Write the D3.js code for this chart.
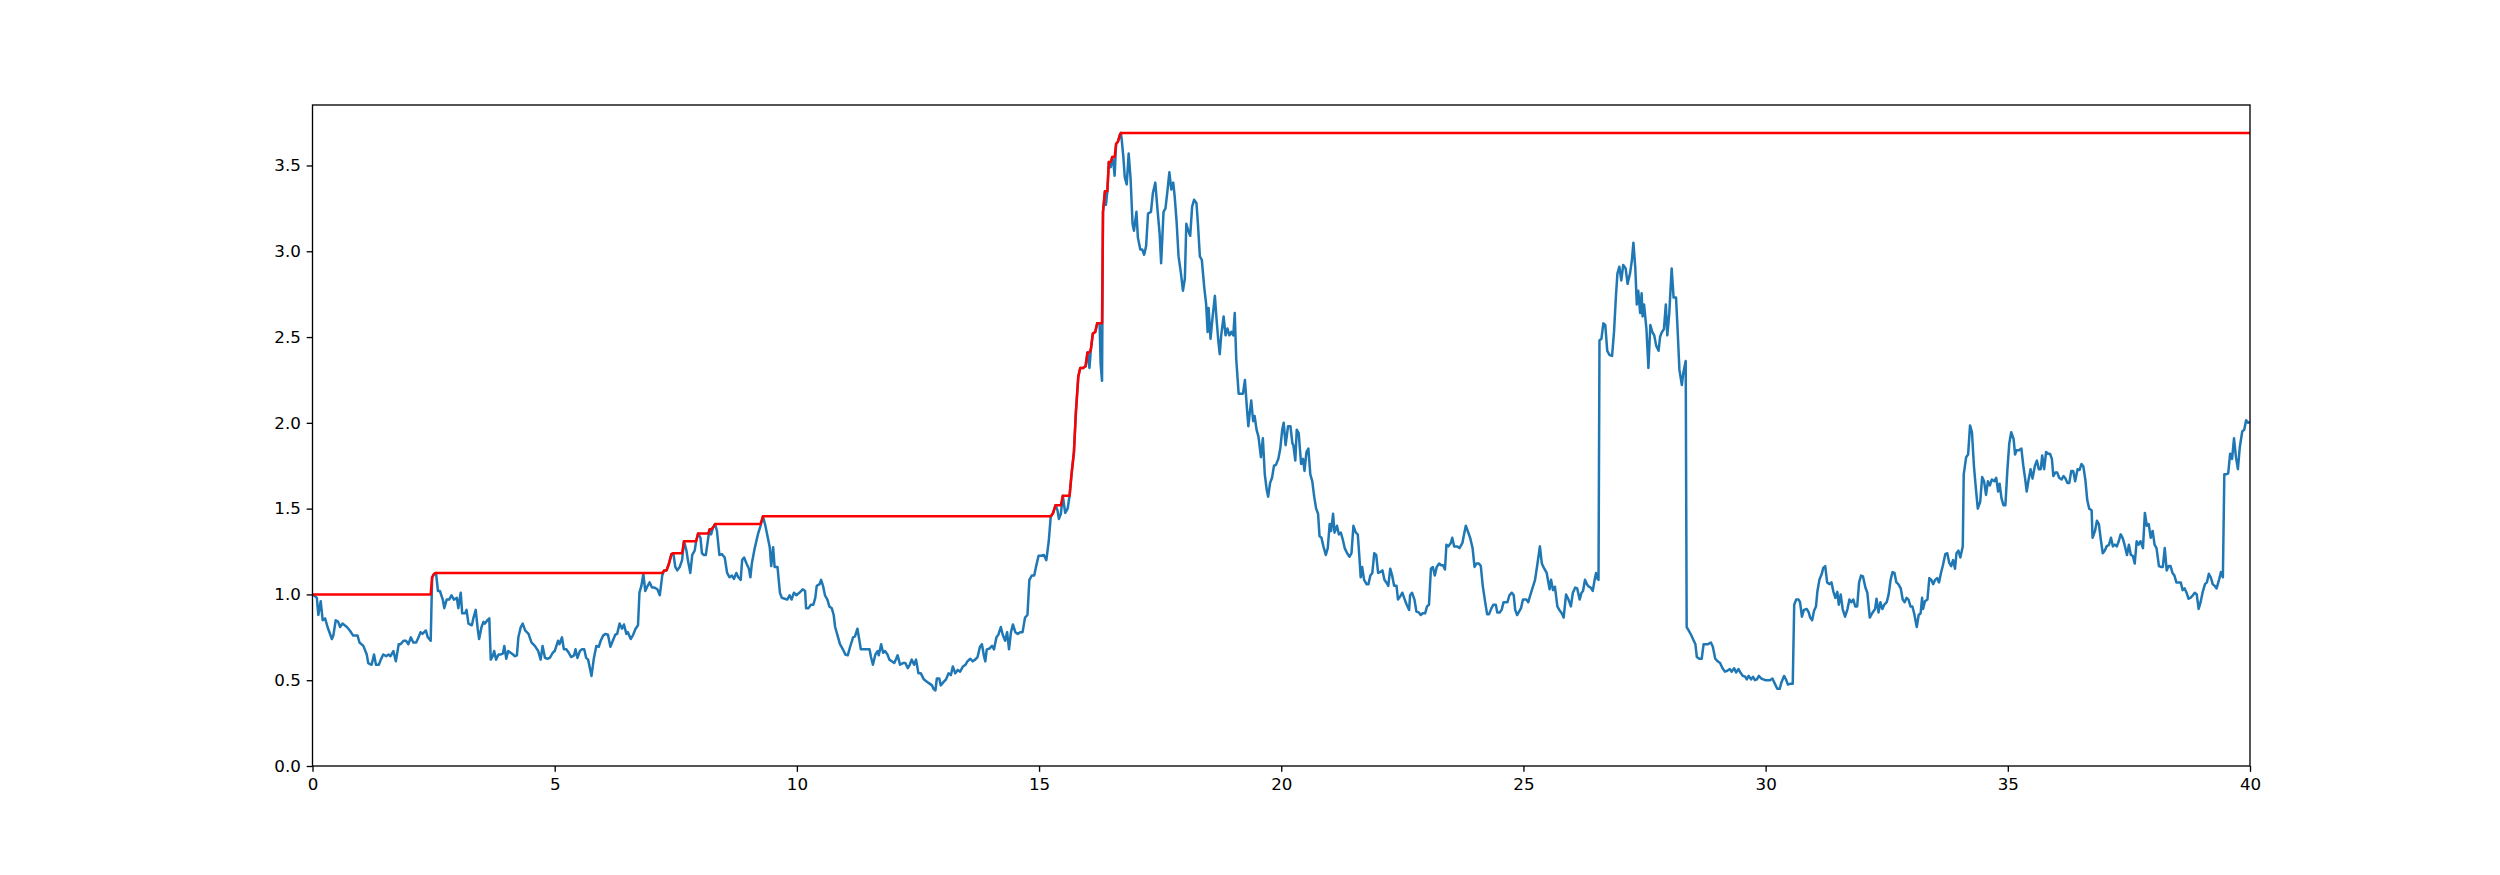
<!DOCTYPE html>
<html>
<head>
<meta charset="utf-8">
<script src="https://cdn.jsdelivr.net/npm/d3@7"></script>
<style>
  body { margin: 0; background: #fff; }
  svg { display: block; }
  .axis text { font-family: "DejaVu Sans", sans-serif; font-size: 16.7px; fill: #000; }
  .axis line { stroke: #000; stroke-width: 1.33; }
</style>
</head>
<body>
<div id="grafiek"></div>
<script>
// blue series, [x, value] pairs
const walk = [
  [0,1.0],[0.05,0.99],[0.09,0.98],[0.12,0.88],[0.17,0.96],[0.21,0.85],[0.26,0.86],[0.31,0.81],[0.40,0.74],[0.43,0.76],
  [0.48,0.85],[0.53,0.84],[0.57,0.81],[0.62,0.83],[0.71,0.81],[0.77,0.79],[0.84,0.76],[0.93,0.76],[0.97,0.72],[1.05,0.70],
  [1.12,0.65],[1.15,0.60],[1.22,0.59],[1.27,0.65],[1.31,0.59],[1.37,0.59],[1.41,0.62],[1.46,0.65],[1.52,0.64],[1.57,0.65],
  [1.61,0.64],[1.67,0.67],[1.72,0.61],[1.78,0.71],[1.82,0.71],[1.88,0.73],[1.93,0.73],[1.98,0.71],[2.03,0.75],[2.08,0.72],
  [2.14,0.72],[2.19,0.75],[2.23,0.78],[2.27,0.77],[2.34,0.79],[2.38,0.75],[2.44,0.73],[2.47,1.10],[2.51,1.12],[2.55,1.125],
  [2.59,1.02],[2.63,1.02],[2.69,0.97],[2.72,0.92],[2.77,0.97],[2.82,0.97],[2.87,0.995],[2.92,0.97],[2.98,0.98],[3.01,0.92],
  [3.06,1.01],[3.09,0.89],[3.15,0.89],[3.18,0.91],[3.22,0.83],[3.29,0.82],[3.32,0.86],[3.37,0.91],[3.41,0.80],[3.44,0.74],
  [3.49,0.81],[3.53,0.84],[3.56,0.83],[3.61,0.85],[3.65,0.86],[3.68,0.62],[3.72,0.64],[3.75,0.67],[3.79,0.62],[3.84,0.65],
  [3.89,0.65],[3.93,0.655],[3.96,0.70],[4.00,0.625],[4.04,0.67],[4.09,0.66],[4.14,0.65],[4.18,0.64],[4.22,0.645],[4.25,0.75],
  [4.30,0.81],[4.34,0.83],[4.39,0.79],[4.46,0.77],[4.52,0.72],[4.59,0.70],[4.66,0.67],[4.71,0.62],[4.75,0.70],[4.80,0.63],
  [4.85,0.625],[4.90,0.63],[4.96,0.66],[5.00,0.67],
  [5.07,0.73],[5.10,0.71],[5.15,0.75],[5.19,0.68],[5.24,0.68],[5.29,0.66],[5.34,0.635],[5.40,0.645],[5.43,0.68],[5.47,0.63],
  [5.52,0.67],[5.56,0.68],[5.61,0.68],[5.65,0.63],[5.69,0.62],[5.76,0.525],[5.81,0.63],[5.86,0.70],[5.91,0.695],[5.95,0.73],
  [6.00,0.76],[6.05,0.77],[6.10,0.765],[6.15,0.695],[6.20,0.73],[6.25,0.765],[6.29,0.77],[6.34,0.83],[6.39,0.80],[6.43,0.825],
  [6.48,0.77],[6.51,0.78],[6.57,0.74],[6.62,0.765],[6.67,0.80],[6.72,0.82],[6.75,1.01],[6.79,1.05],[6.83,1.12],[6.87,1.02],
  [6.91,1.045],[6.96,1.07],[7.01,1.04],[7.06,1.04],[7.12,1.03],[7.17,0.995],[7.22,1.11],[7.26,1.14],[7.31,1.14],[7.36,1.18],
  [7.41,1.235],[7.45,1.24],[7.49,1.16],[7.53,1.14],[7.58,1.16],[7.63,1.20],[7.67,1.31],[7.72,1.255],[7.75,1.20],[7.80,1.125],
  [7.84,1.23],[7.89,1.255],[7.92,1.31],[7.96,1.355],[8.01,1.33],[8.04,1.24],[8.08,1.23],[8.12,1.23],[8.17,1.33],[8.20,1.38],
  [8.23,1.35],[8.27,1.39],[8.31,1.41],[8.35,1.37],[8.40,1.23],[8.45,1.235],[8.51,1.215],[8.56,1.125],[8.61,1.10],[8.66,1.11],
  [8.70,1.09],[8.75,1.125],[8.79,1.10],[8.84,1.085],[8.87,1.20],[8.91,1.215],[8.96,1.18],[9.01,1.15],[9.04,1.10],[9.07,1.18],
  [9.13,1.27],[9.20,1.355],[9.25,1.40],[9.30,1.455],[9.35,1.40],[9.40,1.33],[9.44,1.275],[9.47,1.165],[9.51,1.275],[9.54,1.16],
  [9.60,1.16],[9.65,1.01],[9.69,0.98],[9.75,0.975],[9.80,0.97],[9.85,0.995],[9.89,0.97],[9.94,1.01],[9.99,0.995],
  [10.07,1.015],[10.12,1.03],[10.17,1.02],[10.19,0.92],[10.24,0.92],[10.29,0.94],[10.34,0.94],[10.38,0.98],[10.41,1.05],[10.47,1.06],
  [10.50,1.085],[10.54,1.05],[10.58,0.995],[10.63,0.97],[10.67,0.93],[10.72,0.92],[10.76,0.88],[10.79,0.81],[10.84,0.76],[10.89,0.71],
  [10.95,0.68],[11.00,0.65],[11.05,0.645],[11.10,0.695],[11.16,0.75],[11.20,0.755],[11.25,0.80],[11.28,0.75],[11.32,0.68],[11.38,0.68],
  [11.43,0.68],[11.50,0.68],[11.53,0.635],[11.57,0.59],[11.62,0.65],[11.67,0.67],[11.69,0.645],[11.74,0.71],[11.78,0.66],[11.82,0.67],
  [11.87,0.65],[11.91,0.62],[11.96,0.61],[12.01,0.60],[12.05,0.625],[12.08,0.645],[12.13,0.59],[12.19,0.60],[12.24,0.60],[12.29,0.57],
  [12.33,0.59],[12.37,0.62],[12.42,0.59],[12.46,0.62],[12.51,0.54],[12.56,0.54],[12.62,0.505],[12.69,0.49],[12.74,0.48],[12.79,0.47],
  [12.82,0.45],[12.86,0.44],[12.89,0.51],[12.94,0.51],[12.97,0.47],[13.03,0.49],[13.08,0.505],[13.13,0.54],[13.18,0.53],[13.22,0.58],
  [13.27,0.54],[13.32,0.56],[13.37,0.55],[13.43,0.58],[13.48,0.59],[13.52,0.61],[13.58,0.625],[13.63,0.61],[13.68,0.62],[13.73,0.635],
  [13.78,0.695],[13.82,0.71],[13.86,0.645],[13.89,0.61],[13.92,0.68],[13.98,0.685],[14.03,0.70],[14.07,0.68],[14.12,0.75],[14.16,0.765],
  [14.21,0.81],[14.25,0.765],[14.30,0.73],[14.34,0.78],[14.38,0.68],[14.42,0.78],[14.46,0.825],[14.51,0.78],[14.56,0.77],[14.61,0.78],
  [14.66,0.78],[14.71,0.865],[14.76,0.88],[14.80,1.085],[14.85,1.11],[14.90,1.11],[14.94,1.165],[14.99,1.225],
  [15.04,1.225],[15.10,1.23],[15.15,1.20],[15.20,1.31],[15.24,1.45],[15.29,1.475],[15.34,1.52],[15.38,1.49],[15.41,1.44],[15.45,1.47],
  [15.49,1.575],[15.54,1.475],[15.59,1.50],[15.63,1.575],[15.67,1.70],[15.72,1.83],[15.76,2.06],[15.81,2.27],[15.85,2.32],[15.91,2.32],
  [15.96,2.33],[16.00,2.41],[16.04,2.32],[16.07,2.43],[16.11,2.52],[16.16,2.53],[16.20,2.58],[16.25,2.58],[16.27,2.35],[16.30,2.245],
  [16.32,3.23],[16.36,3.35],[16.38,3.27],[16.41,3.35],[16.44,3.52],[16.48,3.49],[16.51,3.55],[16.54,3.50],[16.56,3.44],[16.59,3.625],
  [16.63,3.64],[16.67,3.68],[16.69,3.69],[16.71,3.64],[16.74,3.55],[16.77,3.43],[16.81,3.39],[16.85,3.57],[16.89,3.42],[16.93,3.16],
  [16.96,3.12],[17.01,3.23],[17.04,3.08],[17.09,3.01],[17.13,3.01],[17.17,2.98],[17.21,3.03],[17.25,3.22],[17.31,3.23],[17.35,3.34],
  [17.40,3.40],[17.44,3.26],[17.49,3.10],[17.52,2.93],[17.57,3.23],[17.61,3.25],[17.65,3.35],[17.69,3.46],[17.73,3.36],[17.77,3.40],
  [17.80,3.32],[17.84,3.17],[17.88,2.97],[17.93,2.87],[17.97,2.77],[18.01,2.84],[18.04,3.16],[18.08,3.12],[18.12,3.09],[18.16,3.26],
  [18.20,3.30],[18.25,3.28],[18.28,3.16],[18.32,2.97],[18.36,2.95],[18.41,2.79],[18.45,2.69],[18.48,2.53],[18.50,2.67],[18.54,2.49],
  [18.58,2.61],[18.63,2.74],[18.66,2.62],[18.70,2.48],[18.73,2.40],[18.76,2.51],[18.81,2.62],[18.85,2.51],[18.89,2.55],[18.93,2.51],
  [18.97,2.53],[19.01,2.51],[19.04,2.64],[19.07,2.375],[19.12,2.17],[19.16,2.17],[19.21,2.17],[19.25,2.25],[19.29,2.09],[19.32,1.98],
  [19.35,2.06],[19.38,2.13],[19.42,2.01],[19.45,2.04],[19.49,1.96],[19.53,1.92],[19.58,1.80],[19.62,1.91],[19.66,1.70],[19.70,1.61],
  [19.73,1.57],[19.77,1.65],[19.81,1.68],[19.85,1.75],[19.89,1.755],[19.94,1.79],[19.98,1.85],
  [20.02,1.96],[20.05,2.00],[20.09,1.87],[20.14,1.98],[20.19,1.98],[20.23,1.88],[20.25,1.87],[20.29,1.78],[20.32,1.96],[20.36,1.94],
  [20.41,1.76],[20.45,1.79],[20.48,1.72],[20.52,1.83],[20.56,1.85],[20.60,1.70],[20.64,1.66],[20.68,1.57],[20.72,1.50],[20.76,1.47],
  [20.79,1.34],[20.83,1.33],[20.87,1.28],[20.92,1.23],[20.96,1.27],[21.00,1.41],[21.03,1.37],[21.07,1.47],[21.10,1.36],[21.15,1.40],
  [21.19,1.35],[21.23,1.36],[21.27,1.32],[21.31,1.27],[21.36,1.24],[21.41,1.22],[21.45,1.24],[21.49,1.40],[21.54,1.36],[21.58,1.35],
  [21.61,1.23],[21.64,1.10],[21.67,1.16],[21.71,1.085],[21.76,1.06],[21.80,1.06],[21.84,1.11],[21.88,1.125],[21.92,1.24],[21.96,1.23],
  [22.00,1.125],[22.04,1.13],[22.09,1.14],[22.13,1.085],[22.17,1.07],[22.21,1.05],[22.25,1.15],[22.29,1.11],[22.33,1.05],[22.38,1.05],
  [22.41,0.97],[22.46,0.99],[22.50,1.01],[22.55,0.97],[22.59,0.94],[22.64,0.91],[22.66,0.995],[22.70,1.01],[22.75,0.97],[22.79,0.90],
  [22.84,0.895],[22.88,0.88],[22.92,0.89],[22.97,0.89],[23.01,0.93],[23.05,0.94],[23.09,1.15],[23.13,1.16],[23.17,1.11],[23.21,1.16],
  [23.26,1.18],[23.30,1.17],[23.34,1.17],[23.38,1.145],[23.41,1.29],[23.45,1.28],[23.50,1.30],[23.53,1.33],[23.57,1.28],[23.63,1.28],
  [23.68,1.27],[23.74,1.30],[23.76,1.33],[23.81,1.40],[23.85,1.37],[23.90,1.33],[23.95,1.27],[23.99,1.16],[24.03,1.18],[24.08,1.18],
  [24.12,1.165],[24.16,1.05],[24.21,0.955],[24.25,0.885],[24.29,0.885],[24.34,0.92],[24.38,0.94],[24.43,0.94],[24.46,0.895],[24.51,0.895],
  [24.55,0.91],[24.59,0.955],[24.63,0.955],[24.67,0.955],[24.71,0.995],[24.76,1.01],[24.80,0.995],[24.83,0.91],[24.87,0.88],[24.91,0.90],
  [24.95,0.92],[24.99,0.97],
  [25.06,0.97],[25.10,0.955],[25.14,0.995],[25.19,1.04],[25.24,1.085],[25.29,1.18],[25.34,1.28],[25.38,1.18],[25.43,1.15],[25.48,1.125],
  [25.54,1.03],[25.57,1.085],[25.61,1.025],[25.65,1.045],[25.70,0.93],[25.74,0.91],[25.79,0.89],[25.83,0.865],[25.88,1.00],[25.93,0.97],
  [25.98,0.93],[26.02,1.01],[26.07,1.04],[26.11,1.035],[26.16,0.97],[26.20,1.01],[26.23,1.02],[26.27,1.085],[26.31,1.06],[26.35,1.045],
  [26.39,1.04],[26.43,1.02],[26.47,1.085],[26.50,1.125],[26.53,1.09],[26.55,1.085],[26.57,2.48],[26.61,2.49],[26.65,2.58],[26.69,2.57],
  [26.73,2.42],[26.78,2.395],[26.83,2.39],[26.87,2.53],[26.91,2.74],[26.94,2.87],[26.98,2.91],[27.02,2.83],[27.06,2.92],[27.11,2.90],
  [27.15,2.81],[27.20,2.87],[27.24,2.95],[27.27,3.05],[27.31,2.90],[27.34,2.69],[27.37,2.77],[27.41,2.64],[27.44,2.755],[27.46,2.62],
  [27.49,2.69],[27.54,2.545],[27.58,2.32],[27.62,2.57],[27.66,2.53],[27.70,2.51],[27.74,2.45],[27.79,2.42],[27.82,2.50],[27.86,2.53],
  [27.90,2.545],[27.94,2.69],[27.97,2.51],[28.01,2.635],[28.06,2.90],[28.10,2.73],[28.15,2.73],[28.18,2.56],[28.22,2.31],[28.27,2.22],
  [28.30,2.29],[28.35,2.36],[28.37,0.81],[28.41,0.79],[28.46,0.765],[28.50,0.74],[28.55,0.71],[28.58,0.635],[28.63,0.625],[28.68,0.625],
  [28.72,0.71],[28.76,0.71],[28.81,0.71],[28.87,0.72],[28.91,0.695],[28.96,0.625],[29.01,0.61],[29.06,0.60],[29.11,0.57],[29.16,0.55],
  [29.21,0.555],[29.26,0.565],[29.30,0.55],[29.35,0.57],[29.39,0.545],[29.44,0.565],[29.49,0.54],[29.53,0.525],[29.58,0.52],[29.61,0.505],
  [29.65,0.525],[29.70,0.505],[29.74,0.52],[29.78,0.50],[29.82,0.505],[29.86,0.525],[29.91,0.51],[29.95,0.505],[30.00,0.50],
  [30.09,0.50],[30.14,0.51],[30.19,0.48],[30.24,0.45],[30.29,0.45],[30.33,0.49],[30.38,0.525],[30.42,0.505],[30.46,0.475],[30.52,0.48],
  [30.56,0.48],[30.59,0.94],[30.63,0.97],[30.68,0.97],[30.71,0.955],[30.75,0.87],[30.79,0.91],[30.85,0.915],[30.89,0.895],[30.92,0.865],
  [30.96,0.85],[31.00,0.905],[31.04,0.93],[31.07,1.02],[31.11,1.085],[31.16,1.12],[31.19,1.155],[31.23,1.165],[31.27,1.07],[31.32,1.06],
  [31.36,1.07],[31.40,1.015],[31.44,0.98],[31.48,1.015],[31.51,0.94],[31.55,1.00],[31.59,0.915],[31.64,0.87],[31.69,0.915],[31.73,0.97],
  [31.77,0.955],[31.81,0.97],[31.85,0.93],[31.89,0.93],[31.93,1.07],[31.97,1.11],[32.01,1.105],[32.06,1.04],[32.10,1.01],[32.15,0.865],
  [32.21,0.895],[32.26,0.915],[32.29,0.975],[32.33,0.895],[32.37,0.955],[32.41,0.915],[32.45,0.94],[32.50,0.955],[32.54,1.00],[32.58,1.085],
  [32.62,1.13],[32.66,1.125],[32.70,1.07],[32.74,1.06],[32.79,1.035],[32.83,0.97],[32.87,0.955],[32.91,0.98],[32.95,0.97],[32.99,0.93],
  [33.03,0.93],[33.07,0.885],[33.12,0.81],[33.16,0.88],[33.20,0.89],[33.23,0.98],[33.25,0.915],[33.29,0.96],[33.34,0.97],[33.38,1.095],
  [33.42,1.085],[33.46,1.06],[33.50,1.085],[33.54,1.095],[33.58,1.07],[33.62,1.125],[33.66,1.17],[33.71,1.235],[33.75,1.24],[33.79,1.185],
  [33.83,1.165],[33.87,1.20],[33.91,1.15],[33.94,1.24],[33.98,1.255],[34.02,1.215],[34.07,1.28],[34.09,1.70],[34.14,1.80],[34.18,1.815],
  [34.22,1.985],[34.26,1.945],[34.30,1.75],[34.34,1.62],[34.38,1.50],[34.43,1.54],[34.47,1.685],[34.51,1.66],[34.55,1.58],[34.59,1.66],
  [34.63,1.635],[34.67,1.67],[34.72,1.66],[34.76,1.68],[34.80,1.60],[34.83,1.645],[34.87,1.56],[34.91,1.52],[34.95,1.52],[34.99,1.72],
  [35.03,1.88],[35.07,1.945],[35.12,1.905],[35.15,1.815],[35.18,1.84],[35.23,1.84],[35.28,1.85],[35.32,1.75],[35.36,1.67],[35.39,1.60],
  [35.43,1.67],[35.47,1.73],[35.51,1.675],[35.56,1.75],[35.60,1.78],[35.64,1.73],[35.68,1.73],[35.71,1.81],[35.75,1.73],[35.79,1.83],
  [35.83,1.82],[35.87,1.82],[35.91,1.79],[35.94,1.69],[35.98,1.71],[36.02,1.71],[36.06,1.68],[36.11,1.67],[36.15,1.69],[36.19,1.675],
  [36.23,1.65],[36.27,1.65],[36.31,1.72],[36.35,1.72],[36.39,1.66],[36.44,1.73],[36.48,1.725],[36.52,1.76],[36.56,1.745],[36.60,1.67],
  [36.64,1.55],[36.68,1.50],[36.73,1.49],[36.75,1.33],[36.80,1.37],[36.84,1.43],[36.88,1.41],[36.92,1.32],[36.96,1.24],[37.00,1.255],
  [37.04,1.28],[37.09,1.29],[37.13,1.33],[37.17,1.28],[37.21,1.29],[37.25,1.28],[37.29,1.31],[37.33,1.35],[37.37,1.33],[37.41,1.29],
  [37.46,1.23],[37.50,1.29],[37.54,1.23],[37.58,1.225],[37.62,1.18],[37.66,1.31],[37.70,1.29],[37.74,1.31],[37.79,1.27],[37.83,1.475],
  [37.87,1.40],[37.91,1.41],[37.95,1.33],[37.99,1.37],[38.03,1.29],[38.07,1.27],[38.12,1.165],[38.16,1.16],[38.20,1.16],[38.24,1.27],
  [38.28,1.14],[38.32,1.165],[38.36,1.165],[38.40,1.125],[38.44,1.11],[38.48,1.07],[38.53,1.07],[38.57,1.07],[38.61,1.025],[38.65,1.035],
  [38.69,1.01],[38.73,0.975],[38.77,0.98],[38.82,0.995],[38.86,1.01],[38.90,1.00],[38.94,0.915],[38.98,0.955],[39.02,1.01],[39.07,1.06],
  [39.11,1.07],[39.15,1.12],[39.19,1.10],[39.23,1.06],[39.27,1.05],[39.31,1.035],[39.36,1.085],[39.40,1.13],[39.44,1.10],[39.47,1.70],
  [39.51,1.70],[39.55,1.705],[39.59,1.82],[39.63,1.79],[39.67,1.91],[39.71,1.80],[39.75,1.73],[39.79,1.86],[39.84,1.95],[39.88,1.96],
  [39.92,2.015],[39.96,2.00],[40.0,2.005]
];

const xTicks = [0, 5, 10, 15, 20, 25, 30, 35, 40];
const yTicks = [0.0, 0.5, 1.0, 1.5, 2.0, 2.5, 3.0, 3.5];

// red line: highest value seen so far
let hoogste = -Infinity;
const piek = walk.map(([x, v]) => [x, (hoogste = Math.max(hoogste, v))]);

// figure and axes box (matplotlib-like, ~120 dpi)
const W = 2500, H = 875;
const box = { left: 312.5, right: 2250, top: 105, bottom: 766 };

const svg = d3.select("#grafiek").append("svg")
  .attr("width", W)
  .attr("height", H);

const xschaal = d3.scaleLinear().domain([0, 40]).range([box.left, box.right]);

// y range like matplotlib autoscale: 5% margin on top, bottom pinned at 0
const [laag, hoog] = d3.extent(walk, d => d[1]);
const yschaal = d3.scaleLinear()
  .domain([0, hoog + 0.05 * (hoog - laag)])
  .range([box.bottom, box.top]);

svg.append("clipPath").attr("id", "clip")
  .append("rect")
  .attr("x", box.left).attr("y", box.top)
  .attr("width", box.right - box.left)
  .attr("height", box.bottom - box.top);

const lijn = d3.line()
  .x(d => xschaal(d[0]))
  .y(d => yschaal(d[1]));

svg.append("path")
  .datum(walk)
  .attr("clip-path", "url(#clip)")
  .attr("fill", "none")
  .attr("stroke", "#1f77b4")
  .attr("stroke-width", 2.5)
  .attr("stroke-linejoin", "round")
  .attr("d", lijn);

svg.append("path")
  .datum(piek)
  .attr("clip-path", "url(#clip)")
  .attr("fill", "none")
  .attr("stroke", "#ff0000")
  .attr("stroke-width", 2.5)
  .attr("stroke-linejoin", "round")
  .attr("d", lijn);

// axes
const xaxis = d3.axisBottom(xschaal)
  .tickValues(xTicks)
  .tickFormat(d3.format("d"))
  .tickSizeOuter(0)
  .tickSize(5.8)
  .tickPadding(5.8);

const yaxis = d3.axisLeft(yschaal)
  .tickValues(yTicks)
  .tickFormat(d3.format(".1f"))
  .tickSizeOuter(0)
  .tickSize(5.8)
  .tickPadding(5.8);

const gx = svg.append("g").attr("class", "axis")
  .attr("transform", `translate(0,${box.bottom})`)
  .call(xaxis);
gx.select(".domain").remove();
gx.selectAll("text").attr("dy", "0.76em");

const gy = svg.append("g").attr("class", "axis")
  .attr("transform", `translate(${box.left},0)`)
  .call(yaxis);
gy.select(".domain").remove();

// spines
svg.append("rect")
  .attr("x", box.left).attr("y", box.top)
  .attr("width", box.right - box.left)
  .attr("height", box.bottom - box.top)
  .attr("fill", "none")
  .attr("stroke", "#000")
  .attr("stroke-width", 1.33);
</script>
</body>
</html>
